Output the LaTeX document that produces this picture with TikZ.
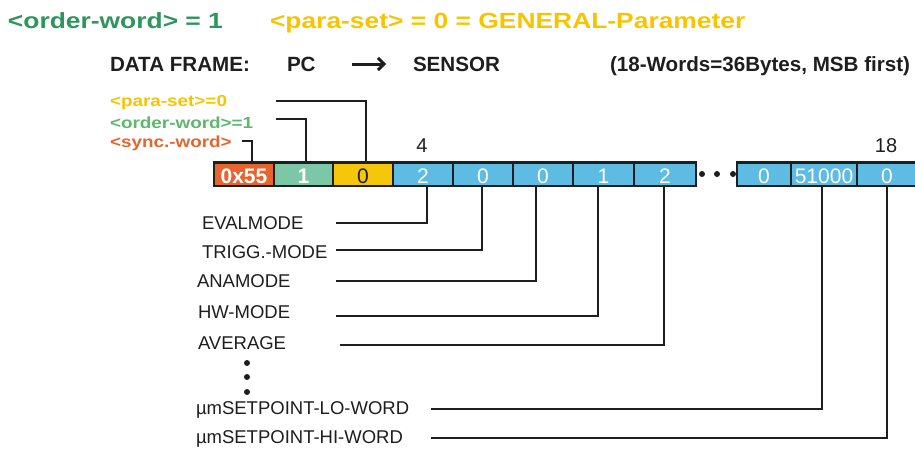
\documentclass[tikz,border=0pt]{standalone}
\usepackage{fontspec}
\setmainfont{Liberation Sans}
\usepackage{graphicx}
\usetikzlibrary{arrows.meta}
\definecolor{tgreen}{RGB}{46,150,92}
\definecolor{tyellow}{RGB}{248,196,0}
\definecolor{sorange}{RGB}{230,100,45}
\definecolor{lgreen}{RGB}{92,184,108}
\definecolor{mint}{RGB}{124,200,166}
\definecolor{boxyellow}{RGB}{245,198,10}
\definecolor{boxblue}{RGB}{94,187,226}
\definecolor{ink}{RGB}{30,30,30}
\tikzset{
  txt/.style={anchor=base west, inner sep=0pt, outer sep=0pt},
  titletxt/.style={txt, font=\fontsize{22}{24}\selectfont\bfseries},
  headtxt/.style={txt, font=\fontsize{20.6}{22}\selectfont\bfseries, text=ink},
  smalltxt/.style={txt, font=\fontsize{16}{18}\selectfont\bfseries},
  fieldtxt/.style={txt, font=\fontsize{18.5}{20}\selectfont, text=ink},
  idxtxt/.style={anchor=base, inner sep=0pt, font=\fontsize{20}{22}\selectfont, text=ink},
  wordbox/.style={draw=ink, line width=2.5pt, inner sep=0pt, minimum height=23.5pt,
    text height=18pt, text depth=0pt, font=\fontsize{21}{23}\selectfont, text=white},
  conn/.style={draw=ink, line width=1.2pt},
  dotmark/.style={circle, fill=ink, inner sep=0pt, minimum size=6pt}
}
\begin{document}
\begin{tikzpicture}[x=1pt,y=-1pt]
\useasboundingbox (0,0) rectangle (915,448);

% titles
\node[titletxt, text=tgreen] (t1) at (8,28) {\scalebox{1.2}[1]{<order-word> = 1}};
\node[titletxt, text=tyellow] (t2) at (270,28) {\scalebox{1.2}[1]{<para-set> = 0 = GENERAL-Parameter}};

% data frame header
\node[headtxt] (h1) at (110,71) {DATA FRAME:};
\node[headtxt] (h2) at (287,71) {PC};
\coordinate (arS) at (352,64);
\coordinate (arE) at (386,64);
\draw[draw=ink, line width=3pt, -{Straight Barb[length=6pt,width=12pt]}] (arS) -- (arE);
\node[headtxt] (h3) at (413,71) {SENSOR};
\node[headtxt] (h4) at (610,71) {(18-Words=36Bytes, MSB first)};

% small labels
\node[smalltxt, text=tyellow] (lp) at (110,106) {\scalebox{1.18}[1]{<para-set>=0}};
\node[smalltxt, text=lgreen] (lo) at (110,128) {\scalebox{1.18}[1]{<order-word>=1}};
\node[smalltxt, text=sorange] (ls) at (110,147) {\scalebox{1.18}[1]{<sync.-word>}};

% indices
\node[idxtxt] (i4) at (422,152) {4};
\node[idxtxt] (i18) at (886,152) {18};

% word boxes
\node[wordbox, fill=sorange, minimum width=60pt, font=\fontsize{21}{23}\selectfont\bfseries] (b0) at (244,174) {0x55};
\node[wordbox, fill=mint, minimum width=59pt, font=\fontsize{21}{23}\selectfont\bfseries] (b1) at (303.5,174) {1};
\node[wordbox, fill=boxyellow, minimum width=60pt, text=ink] (b2) at (363,174) {0};
\node[wordbox, fill=boxblue, minimum width=60pt] (b3) at (423,174) {2};
\node[wordbox, fill=boxblue, minimum width=60pt] (b4) at (483,174) {0};
\node[wordbox, fill=boxblue, minimum width=60pt] (b5) at (543,174) {0};
\node[wordbox, fill=boxblue, minimum width=61pt] (b6) at (603.5,174) {1};
\node[wordbox, fill=boxblue, minimum width=62pt] (b7) at (665,174) {2};
\node[dotmark] (d1) at (702,174) {};
\node[dotmark] (d2) at (717,174) {};
\node[dotmark] (d3) at (733,174) {};
\node[wordbox, fill=boxblue, minimum width=54pt] (b8) at (764,174) {0};
\node[wordbox, fill=boxblue, minimum width=66pt] (b9) at (824,174) {51000};
\node[wordbox, fill=boxblue, minimum width=60pt] (b10) at (887,174) {0};

% top connectors
\coordinate (cp) at (276,101);
\coordinate (co) at (276,119);
\coordinate (cs) at (242,141);
\draw[conn] (cp) -| ([xshift=3pt]b2.north);
\draw[conn] (co) -| ([xshift=2.5pt]b1.north);
\draw[conn] (cs) -| ([xshift=8pt]b0.north);

% field labels
\node[fieldtxt] (f1) at (202,229) {EVALMODE};
\node[fieldtxt] (f2) at (202,258) {TRIGG.-MODE};
\node[fieldtxt] (f3) at (197,287) {ANAMODE};
\node[fieldtxt] (f4) at (198,318) {HW-MODE};
\node[fieldtxt] (f5) at (198,349) {AVERAGE};
\node[dotmark] (v1) at (247,363) {};
\node[dotmark] (v2) at (247,377) {};
\node[dotmark] (v3) at (247,392) {};
\node[fieldtxt] (f6) at (196,414) {µmSETPOINT-LO-WORD};
\node[fieldtxt] (f7) at (196,443) {µmSETPOINT-HI-WORD};

% bottom connectors
\coordinate (c1) at (336,223);
\coordinate (c2) at (336,250);
\coordinate (c3) at (336,281);
\coordinate (c4) at (336,316);
\coordinate (c5) at (340,345);
\coordinate (c6) at (431,409);
\coordinate (c7) at (431,438);
\draw[conn] (c1) -| ([xshift=4pt]b3.south);
\draw[conn] (c2) -| ([xshift=-1pt]b4.south);
\draw[conn] (c3) -| ([xshift=-7pt]b5.south);
\draw[conn] (c4) -| ([xshift=-5.5pt]b6.south);
\draw[conn] (c5) -| ([xshift=-1pt]b7.south);
\draw[conn] (c6) -| ([xshift=-2pt]b9.south);
\draw[conn] (c7) -| (b10.south);
\end{tikzpicture}
\end{document}
